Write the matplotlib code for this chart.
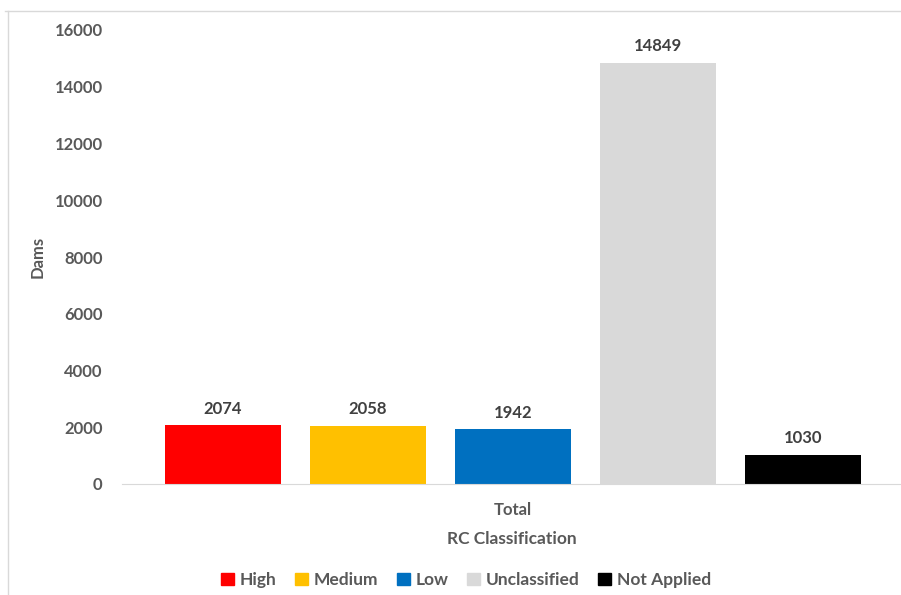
import matplotlib.pyplot as plt
from matplotlib.lines import Line2D

# data
categories = ["High", "Medium", "Low", "Unclassified", "Not Applied"]
dams = [2074, 2058, 1942, 14849, 1030]
colors = ["#FF0000", "#FFC000", "#0070C0", "#D9D9D9", "#000000"]
yticks = [0, 2000, 4000, 6000, 8000, 10000, 12000, 14000, 16000]

plt.rcParams['font.family'] = ['Lato', 'DejaVu Sans']
txt = "#595959"

fig = plt.figure(figsize=(9.01, 5.95), dpi=100)
W, H = 901, 595
ax = fig.add_axes([122 / W, (H - 484) / H, 1 - 122 / W, (484 - 30) / H])

x = list(range(len(categories)))
bars = ax.bar(x, dams, width=0.8, color=colors, label=categories)
for xi, v in zip(x, dams):
    ax.annotate(str(v), (xi, v), xytext=(0, 6), textcoords="offset points",
                ha="center", va="bottom", fontsize=12, fontweight="bold", color="#404040")

ax.set_xlim(-0.697, 4.676)
ax.set_ylim(0, 16000)
ax.set_yticks(yticks)
ax.set_yticklabels([str(t) for t in yticks], fontsize=12, fontweight="bold", color=txt)
ax.set_xticks([2])
ax.set_xticklabels(["Total"], fontsize=12, fontweight="bold", color=txt)
ax.tick_params(length=0)
ax.tick_params(axis="y", pad=14)
ax.tick_params(axis="x", pad=13)
for s in ["top", "right", "left"]:
    ax.spines[s].set_visible(False)
ax.spines["bottom"].set_color("#D9D9D9")
ax.set_ylabel("Dams", fontsize=12, fontweight="bold", color=txt)
ax.yaxis.set_label_coords((46 - 122) / (W - 122), 0.5)
ax.set_xlabel("RC Classification", fontsize=12.5, fontweight="bold", color=txt, labelpad=9)

handles = [plt.Rectangle((0, 0), 1, 1, color=c) for c in colors]
fig.legend(handles, categories, loc="center", bbox_to_anchor=(466 / W, (H - 580) / H),
           ncol=5, frameon=False, handlelength=0.75, handleheight=0.75,
           handletextpad=0.35, columnspacing=1.05,
           prop={"weight": "bold", "size": 12.5})
for t in fig.legends[0].get_texts():
    t.set_color(txt)

# chart border (top and left)
fig.add_artist(Line2D([5 / W, 1], [1 - 11 / H, 1 - 11 / H], color="#D9D9D9", lw=1))
fig.add_artist(Line2D([8 / W, 8 / W], [0, 1 - 11 / H], color="#D9D9D9", lw=1))

fig.savefig("out.png", dpi=100)
